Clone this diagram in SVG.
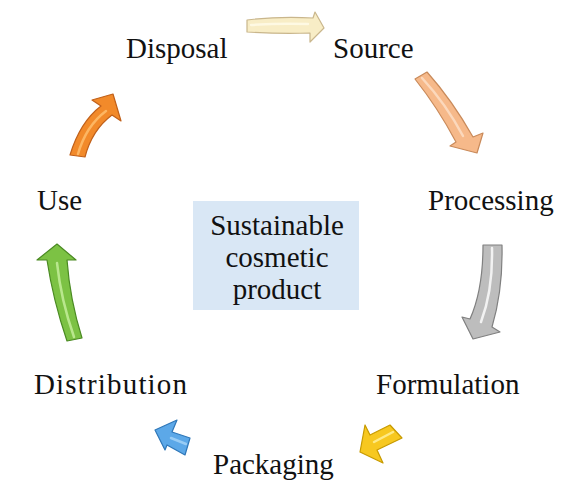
<svg xmlns="http://www.w3.org/2000/svg" width="568" height="496" viewBox="0 0 568 496">
<style>
.lbl{font-family:"Liberation Serif","Times New Roman",serif;font-size:29px;fill:#111;}
.ctr{font-family:"Liberation Serif","Times New Roman",serif;font-size:29px;fill:#111;text-anchor:middle;}
.arr{stroke-width:1.2;stroke-linejoin:round;}
.hl{fill:none;stroke-width:2.5;stroke-linecap:round;opacity:0.8;}
</style>
<rect width="568" height="496" fill="#ffffff"/>
<g id="center">
<rect x="193" y="201" width="166" height="109" fill="#d9e7f5"/>
<text class="ctr" x="277" y="235">Sustainable</text>
<text class="ctr" x="277" y="267">cosmetic</text>
<text class="ctr" x="277" y="299">product</text>
</g>
<g id="source"><text class="lbl" x="333" y="58">Source</text></g>
<g id="processing"><text class="lbl" x="428" y="210">Processing</text></g>
<g id="formulation"><text class="lbl" x="376" y="394">Formulation</text></g>
<g id="packaging"><text class="lbl" x="213" y="474">Packaging</text></g>
<g id="distribution"><text class="lbl" x="34" y="394" textLength="153" lengthAdjust="spacing">Distribution</text></g>
<g id="use"><text class="lbl" x="37" y="210">Use</text></g>
<g id="disposal"><text class="lbl" x="126" y="58">Disposal</text></g>
<g id="connectors">
<path class="arr" d="M247,20 Q280,16 313,18 L315,12 L324,28 L310,42 L310,33 Q280,34 247,32 Z" fill="#f8edc6" stroke="#c9b68c"/>
<path class="hl" d="M251,25 Q280,23 308,24" stroke="#fffbea"/>
<path class="arr" d="M415,79 Q438,108 456,142 L450,146 L477,153 L483,133 L473,137 Q452,100 427,72 Z" fill="#f6b98a" stroke="#c98a5a"/>
<path class="hl" d="M422,78 Q446,104 463,136" stroke="#fde0c8"/>
<path class="arr" d="M483,245 Q483,290 470,319 L462,317 L473,339 L500,332 L492,327 Q503,290 502,245 Z" fill="#bdbdbd" stroke="#808080"/>
<path class="hl" d="M492,248 Q493,290 481,322" stroke="#ffffff"/>
<path class="arr" d="M390,425 L370,435 L365,425 L360,452 L383,463 L377,450 L402,438 Z" fill="#f7c820" stroke="#c79a00"/>
<path class="hl" d="M393,432 L374,442" stroke="#fff2a0"/>
<path class="arr" d="M155,430 L177,420 L172,432 L190,438 L185,455 L167,445 L165,450 Z" fill="#5ca8e8" stroke="#2f77b8"/>
<path class="hl" d="M171,438 L186,444" stroke="#a8d4f8"/>
<path class="arr" d="M57,244 L76,260 L67,260 Q70,300 82,338 L67,341 Q53,300 47,260 L37,260 Z" fill="#7cc244" stroke="#4a8a22"/>
<path class="hl" d="M57,263 Q61,300 74,337" stroke="#c8f0a0"/>
<path class="arr" d="M113,94 L121,121 L112,115 Q92,130 85,157 L70,155 Q80,122 101,106 L92,100 Z" fill="#f28a2a" stroke="#c0601a"/>
<path class="hl" d="M106,111 Q86,126 78,154" stroke="#ffc070"/>
</g>
</svg>
